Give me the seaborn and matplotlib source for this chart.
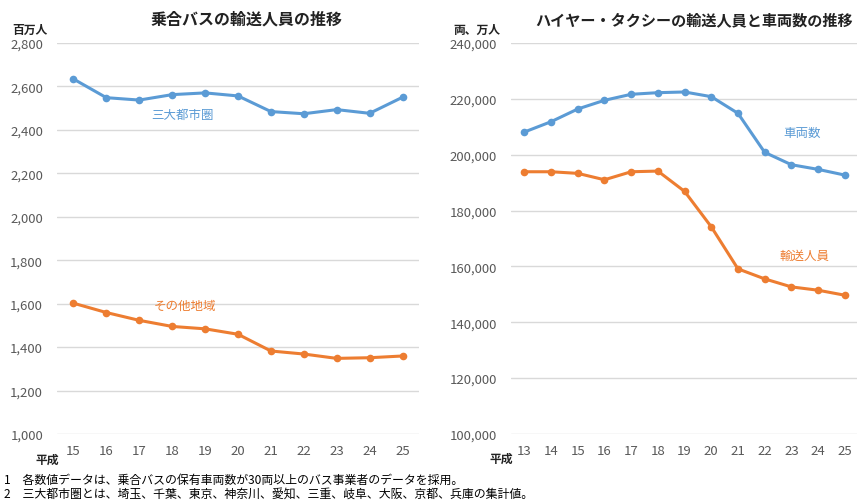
import matplotlib
matplotlib.use('Agg')
import matplotlib.pyplot as plt
import matplotlib.ticker as mticker
import seaborn as sns

sns.set_theme(style='white')
plt.rcParams['font.family'] = ['Noto Sans CJK JP', 'DejaVu Sans']

# 乗合バス (百万人)
bus_years = [15, 16, 17, 18, 19, 20, 21, 22, 23, 24, 25]
bus_metro = [2634, 2548, 2537, 2562, 2570, 2556, 2484, 2474, 2493, 2476, 2550]
bus_other = [1602, 1559, 1523, 1495, 1484, 1459, 1382, 1368, 1348, 1351, 1359]

# ハイヤー・タクシー
taxi_years = [13, 14, 15, 16, 17, 18, 19, 20, 21, 22, 23, 24, 25]
taxi_cars = [208100, 211800, 216350, 219460, 221610, 222190, 222440,
             220760, 214800, 200830, 196400, 194730, 192690]
taxi_pass = [193880, 193880, 193300, 191010, 193880, 194120, 186850,
             174170, 159110, 155530, 152660, 151470, 149680]

BLUE = '#5B9BD5'
ORANGE = '#ED7D31'
GRAY = '#595959'
GRID = '#D9D9D9'

fig = plt.figure(figsize=(8.57, 5.02), dpi=100)
ax1 = fig.add_axes([0.0665, 0.1335, 0.4224, 0.779])
ax2 = fig.add_axes([0.5963, 0.1335, 0.405, 0.779])


def style_axis(ax, years, ylim, step):
    ax.set_xlim(years[0] - 0.5, years[-1] + 0.5)
    ax.set_ylim(*ylim)
    ax.set_xticks(years)
    ax.set_xticklabels([str(y) for y in years])
    ax.yaxis.set_major_locator(mticker.MultipleLocator(step))
    ax.yaxis.set_major_formatter(mticker.StrMethodFormatter('{x:,.0f}'))
    ax.grid(axis='y', color=GRID, linewidth=1)
    ax.grid(axis='x', visible=False)
    for s in ax.spines.values():
        s.set_visible(False)
    ax.tick_params(axis='both', length=0, colors=GRAY, labelsize=9.5)
    ax.tick_params(axis='y', pad=10)
    ax.tick_params(axis='x', pad=7)
    ax.set_xlabel('')
    ax.set_ylabel('')


line_kw = dict(marker='o', markersize=5.5, linewidth=2.2, markeredgewidth=0)

sns.lineplot(x=bus_years, y=bus_metro, ax=ax1, color=BLUE, **line_kw)
sns.lineplot(x=bus_years, y=bus_other, ax=ax1, color=ORANGE, **line_kw)
style_axis(ax1, bus_years, (1000, 2800), 200)

sns.lineplot(x=taxi_years, y=taxi_cars, ax=ax2, color=BLUE, **line_kw)
sns.lineplot(x=taxi_years, y=taxi_pass, ax=ax2, color=ORANGE, **line_kw)
style_axis(ax2, taxi_years, (100000, 240000), 20000)

# series labels
ax1.text(18.3, 2470, '三大都市圏', color=BLUE, fontsize=9, ha='center', va='center')
ax1.text(18.4, 1590, 'その他地域', color=ORANGE, fontsize=9, ha='center', va='center')
ax2.text(23.4, 208000, '車両数', color=BLUE, fontsize=9, ha='center', va='center')
ax2.text(23.5, 164000, '輸送人員', color=ORANGE, fontsize=9, ha='center', va='center')

# titles and units
fig.text(246 / 857, 1 - 20 / 502, '乗合バスの輸送人員の推移', fontsize=11.5,
         fontweight='bold', ha='center', va='center', color='#222222')
fig.text(694 / 857, 1 - 20 / 502, 'ハイヤー・タクシーの輸送人員と車両数の推移', fontsize=10.9,
         fontweight='bold', ha='center', va='center', color='#222222')
fig.text(12 / 857, 1 - 30 / 502, '百万人', fontsize=8.5, fontweight='bold',
         ha='left', va='center', color='#222222')
fig.text(453 / 857, 1 - 30 / 502, '両、万人', fontsize=8.5, fontweight='bold',
         ha='left', va='center', color='#222222')
fig.text(35 / 857, 1 - 460 / 502, '平成', fontsize=8.5, fontweight='bold',
         ha='left', va='center', color='#222222')
fig.text(489 / 857, 1 - 459 / 502, '平成', fontsize=8.5, fontweight='bold',
         ha='left', va='center', color='#222222')

# footnotes
fig.text(4 / 857, 1 - 480 / 502,
         '1　各数値データは、乗合バスの保有車両数が30両以上のバス事業者のデータを採用。',
         fontsize=8.6, ha='left', va='center', color='black')
fig.text(4 / 857, 1 - 494 / 502,
         '2　三大都市圏とは、埼玉、千葉、東京、神奈川、愛知、三重、岐阜、大阪、京都、兵庫の集計値。',
         fontsize=8.6, ha='left', va='center', color='black')

fig.savefig('out.png', dpi=100)
